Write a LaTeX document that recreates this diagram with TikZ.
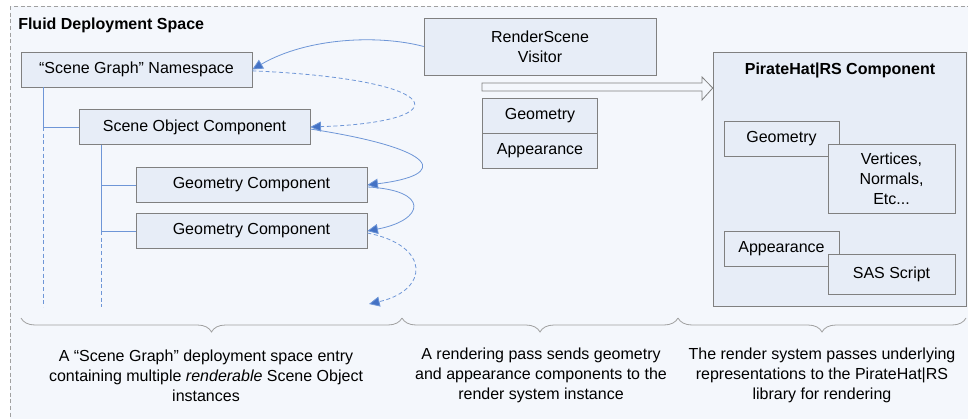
\documentclass[tikz,border=0pt]{standalone}
\usepackage{fontspec}
\setmainfont{Liberation Sans}
\usepackage{xcolor}
\usepackage{tikz}
\usetikzlibrary{arrows.meta, positioning, decorations.pathreplacing}
\definecolor{spacefill}{RGB}{244, 247, 252}
\definecolor{boxfill}{RGB}{231, 237, 247}
\definecolor{boxline}{RGB}{128, 128, 128}
\definecolor{spaceline}{RGB}{160, 160, 160}
\definecolor{linkblue}{RGB}{110, 150, 215}
\definecolor{tipblue}{RGB}{68, 114, 196}

\begin{document}
\begin{tikzpicture}[
    x=0.75pt, y=-0.75pt,
    txt/.style={font=\fontsize{12}{15}\selectfont, align=center},
    box/.style={draw=boxline, fill=boxfill, txt, inner sep=0pt, minimum width=173.25pt, minimum height=25.9pt},
    smallbox/.style={box, minimum width=86.6pt, minimum height=25.9pt},
    tree/.style={linkblue, line width=0.6pt},
    link/.style={linkblue, line width=0.6pt, -{Triangle[length=8pt, width=7.5pt, fill=tipblue]}},
    dlink/.style={link, dash pattern=on 3pt off 2pt},
    brace/.style={spaceline, line width=0.6pt, decorate, decoration={brace, mirror, amplitude=10.5pt}}
]
    \useasboundingbox (0,0) rectangle (968,418);
    \clip (0,0) rectangle (968,418);
    % Deployment space
    \draw[spaceline, fill=spacefill, dash pattern=on 3pt off 2pt] (10,6) rectangle (990,440);
    \node[txt, font=\fontsize{12}{15}\selectfont\bfseries, anchor=west, inner sep=0pt] (title) at (18,25.5) {Fluid Deployment Space};

    % Scene graph
    \node[box] (ns) at (136.5,69.5) {“Scene Graph” Namespace};
    \node[box] (so) at (194.5,127) {Scene Object Component};
    \node[box] (g1) at (251.5,185) {Geometry Component};
    \node[box] (g2) at (251.5,231) {Geometry Component};
    \coordinate (treeend) at (0,307);
    \coordinate (gend) at (369,304);

    \draw[tree] ([xshift=17.25pt]ns.south west) coordinate (t1) |- (so.west);
    \draw[tree, dash pattern=on 3pt off 2pt] (t1 |- so.west) -- (t1 |- treeend);
    \draw[tree] ([xshift=17.25pt]so.south west) coordinate (t2) |- (g1.west);
    \draw[tree] (t2 |- g1.west) |- (g2.west);
    \draw[tree, dash pattern=on 3pt off 2pt] (t2 |- g2.west) -- (t2 |- treeend);

    % Render pass
    \node[box, minimum width=174pt, minimum height=42.75pt] (vis) at (540,46.5) {RenderScene\\Visitor};
    \node[smallbox] (geoA) at (540,115.5) {Geometry};
    \node[smallbox, below=0pt of geoA] (appA) {Appearance};

    % Visits
    \draw[link] (vis.west) .. controls +(-45,-12) and +(55,-32) .. (ns.east);
    \draw[dlink] ([yshift=-1pt]ns.east) .. controls +(198,8.5) and +(150,-5) .. (so.east);
    \draw[link] ([yshift=-1.5pt]so.east) .. controls +(130,20) and +(83,-10) .. (g1.east);
    \draw[link] ([yshift=-1.5pt]g1.east) .. controls +(63,3) and +(58,-11) .. (g2.east);
    \draw[dlink] ([yshift=-1.5pt]g2.east) .. controls +(63,12) and +(61,-14) .. (gend);

    % Render system
    \node[box, minimum width=189.75pt, minimum height=190.5pt] (pirate) at (839.5,179) {};
    \node[txt, font=\fontsize{12}{15}\selectfont\bfseries] (ptitle) at (840,70.5) {PirateHat|RS Component};
    \node[smallbox] (pgeo) at (781.5,139) {Geometry};
    \node[box, minimum width=95.25pt, minimum height=51.75pt] (pvert) at (891.5,178.5) {Vertices,\\Normals,\\Etc...};
    \node[smallbox, minimum height=26.25pt] (papp) at (781.5,248.5) {Appearance};
    \node[box, minimum width=95.25pt, minimum height=30pt] (psas) at (891.5,274) {SAS Script};

    \draw[boxline, fill=spacefill, line width=0.6pt] (482,83) -- (702,83) -- (702,77) -- (pirate.west |- 0,88) -- (702,100) -- (702,91) -- (482,91) -- cycle;

    % Braces
    \coordinate (b0) at (21,318);
    \coordinate (b1) at (402,318);
    \coordinate (b2) at (678,318);
    \coordinate (b3) at (966,318);
    \draw[brace] (b0) -- (b1);
    \draw[brace] (b1) -- (b2);
    \draw[brace] (b2) -- (b3);

    \node[txt] (cap1) at (206,375.5) {A “Scene Graph” deployment space entry\\containing multiple \textit{renderable} Scene Object\\instances};
    \node[txt] (cap2) at (541,375.5) {A rendering pass sends geometry\\and appearance components to the\\render system instance};
    \node[txt] (cap3) at (822,375.5) {The render system passes underlying\\representations to the PirateHat|RS\\library for rendering};
\end{tikzpicture}
\end{document}
